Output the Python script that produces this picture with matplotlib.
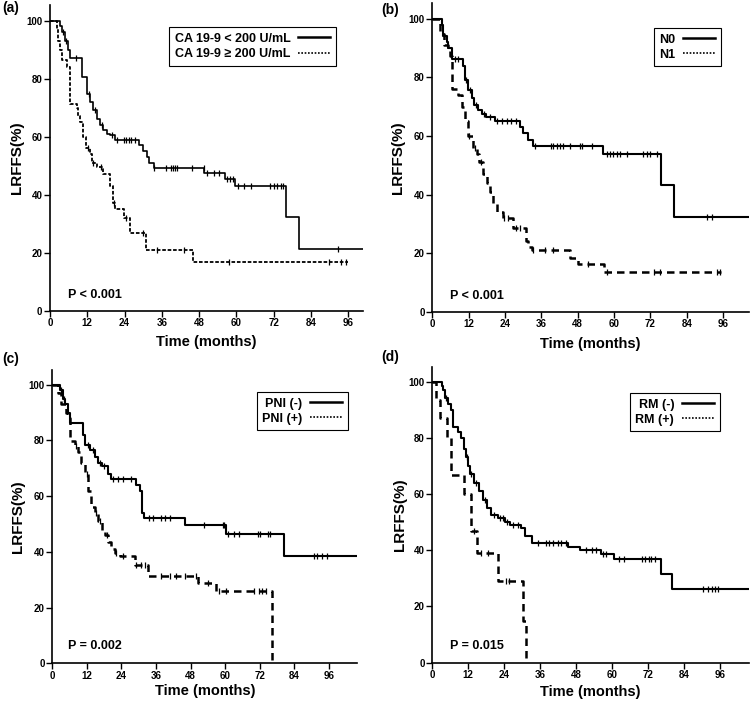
import numpy as np
import matplotlib
matplotlib.use('Agg')
import matplotlib.pyplot as plt
from matplotlib.lines import Line2D

plt.rcParams['font.family'] = ['Liberation Sans', 'DejaVu Sans']

# (a) CA 19-9
a_lo_t = [3.2, 3.8, 4.8, 5.9, 6.5, 10.2, 12.0, 12.9, 13.8, 15.1, 16.1, 17.2, 18.3, 19.4, 21.0,
          28.5, 30.0, 31.3, 31.8, 33.4, 49.7, 56.5, 59.7, 76.1, 80.2]
a_lo_s = [98, 96, 93, 90, 87.2, 80.5, 74.8, 72, 69, 66.2, 64, 62.2, 61, 60.4, 58.7,
          57, 55, 53, 51, 49.3, 47.5, 45.5, 43, 32.3, 21.4]
a_lo_c = [4.2, 5.2, 8.3, 12.6, 14.5, 16.6, 19.9, 21.5, 23.7, 24.5, 25.3, 26.1, 27.4, 33.6, 37.4,
          38.8, 39.6, 40.2, 40.9, 45.7, 49.5, 50.6, 52.7, 54.4, 57.0, 58.0, 59.0, 60.5, 62.4, 64.6,
          70.8, 72.1, 73.2, 74.3, 75.0, 92.6]
a_hi_t = [2.2, 2.7, 3.2, 3.8, 5.4, 6.5, 8.6, 9.1, 9.7, 10.5, 11.6, 12.9, 13.5, 15.1, 17.2, 19.4,
          20.2, 21.0, 23.9, 25.8, 30.8, 46.1]
a_hi_s = [97, 93, 90, 86.5, 84, 71.3, 70, 67, 65, 60, 56, 54, 51, 49.5, 47, 43,
          37, 35, 32, 26.8, 21, 16.7]
a_hi_c = [12.2, 14.0, 16.3, 20.6, 24.6, 30.1, 34.4, 43.0, 57.6, 89.9, 93.6, 95.3]

# (b) N stage
b_n0_t = [3.1, 3.6, 4.7, 5.3, 6.4, 10.2, 10.8, 11.9, 13.0, 13.8, 15.2, 16.3, 17.7, 20.7, 28.9,
          30.0, 31.7, 33.3, 56.4, 75.5, 79.9]
b_n0_s = [98, 94.2, 92, 90, 86.2, 84, 79.2, 75.7, 73, 70.5, 69, 67.5, 66.5, 65.3, 63,
          61, 58.5, 56.6, 53.9, 43.3, 32.2]
b_n0_c = [4.0, 7.5, 8.5, 11.2, 12.5, 14.5, 17.0, 19.0, 21.5, 23.0, 24.5, 26.0, 27.5, 33.8, 39.1,
          40.0, 41.0, 42.1, 43.2, 45.4, 48.7, 49.3, 52.6, 57.5, 58.6, 59.7, 60.8, 61.9, 64.1, 69.6,
          70.7, 71.9, 74.0, 90.5, 92.2]
b_n1_t = [2.5, 3.9, 5.3, 5.8, 6.4, 8.6, 9.7, 10.8, 11.9, 13.5, 14.6, 15.5, 16.8, 17.9, 19.0,
          20.1, 21.5, 23.4, 26.5, 30.9, 31.7, 32.8, 45.4, 48.2, 56.7]
b_n1_s = [95, 91, 89, 87.5, 76, 74, 70, 65, 60, 56, 54, 51, 47, 44, 41,
          37, 34, 32, 28.5, 24, 22, 21.1, 18.5, 16.2, 13.4]
b_n1_c = [12.2, 14.0, 16.0, 23.8, 25.1, 27.5, 29.0, 33.3, 37.2, 39.9, 51.5, 57.5, 73.0, 75.0,
          93.8, 95.0]

# (c) PNI
c_neg_t = [2.6, 3.6, 4.4, 5.5, 6.3, 10.5, 11.3, 13.0, 14.7, 15.9, 17.1, 19.4, 20.5, 29.1, 30.3,
           31.2, 31.7, 45.9, 60.3, 80.4]
c_neg_s = [98, 95, 93, 90, 86.3, 82, 78.5, 76.5, 74, 72, 71, 68, 66.2, 64, 62,
           54, 52.2, 49.6, 46.5, 38.7]
c_neg_c = [3.0, 4.0, 12.5, 14.0, 16.5, 18.0, 21.1, 22.8, 24.5, 27.4, 33.5, 34.9, 37.8, 39.2, 40.9,
           52.8, 59.1, 59.7, 60.8, 63.1, 64.9, 71.2, 72.0, 74.7, 75.5, 90.8, 91.9, 93.7, 95.4]
c_pos_t = [2.1, 3.2, 4.7, 5.5, 6.3, 7.8, 9.0, 10.1, 11.3, 12.4, 13.6, 14.7, 15.9, 17.1, 18.2,
           19.4, 20.5, 21.7, 23.4, 28.6, 33.2, 50.5, 56.8, 76.2]
c_pos_s = [97, 93, 90, 88, 79.7, 78, 76, 72, 68, 62, 56, 54, 51, 48, 46,
           43.5, 41, 39.5, 38.5, 35.2, 31.4, 29, 26, 0]
c_pos_c = [8.2, 12.0, 15.0, 16.5, 19.0, 22.0, 24.5, 29.1, 30.9, 32.0, 37.8, 40.7, 43.0, 45.9,
           49.9, 53.9, 58.0, 60.3, 70.0, 71.8, 72.9, 74.1]

# (d) RM
d_neg_t = [3.1, 3.7, 4.2, 5.3, 6.1, 6.8, 8.6, 9.7, 10.5, 11.2, 12.0, 12.7, 13.8, 15.6, 16.9,
           18.3, 19.7, 21.9, 24.1, 25.8, 29.7, 30.8, 33.3, 45.2, 49.1, 56.3, 60.7, 76.4, 80.1]
d_neg_s = [98.5, 97, 94.1, 92, 90, 83.8, 82, 80, 76, 73, 70, 67, 64, 61, 58,
           55, 52.6, 51.5, 50, 49, 48, 45, 42.5, 41, 40, 38.5, 36.8, 31.4, 26.2]
d_neg_c = [4.5, 11.5, 13.0, 14.5, 17.5, 20.5, 22.5, 23.5, 25.0, 27.0, 28.5, 35.1, 37.9, 39.0,
           40.1, 41.8, 42.9, 44.5, 51.2, 53.4, 54.5, 56.9, 57.8, 62.2, 63.9, 69.9, 71.0, 72.2,
           73.0, 74.4, 90.4, 92.0, 93.2, 94.3, 95.4]
d_pos_t = [1.4, 2.5, 4.8, 6.4, 10.6, 13.0, 15.0, 21.9, 30.2, 31.3]
d_pos_s = [93.4, 86.9, 79.9, 66.7, 60, 46.7, 39, 29.2, 14.7, 0]
d_pos_c = [14.0, 16.4, 18.6, 24.6, 25.7]

panels = [
    dict(tag='(a)', labels=['CA 19-9 < 200 U/mL', 'CA 19-9 \u2265 200 U/mL'], p='P < 0.001',
         curves=[(a_lo_t, a_lo_s, a_lo_c, 100.8), (a_hi_t, a_hi_s, a_hi_c, 95.8)], xmax=100.8),
    dict(tag='(b)', labels=['N0', 'N1'], p='P < 0.001',
         curves=[(b_n0_t, b_n0_s, b_n0_c, 104.5), (b_n1_t, b_n1_s, b_n1_c, 95.2)], xmax=104.5),
    dict(tag='(c)', labels=['PNI (-)', 'PNI (+)'], p='P = 0.002',
         curves=[(c_neg_t, c_neg_s, c_neg_c, 105.8), (c_pos_t, c_pos_s, c_pos_c, 76.2)], xmax=105.8),
    dict(tag='(d)', labels=['RM (-)', 'RM (+)'], p='P = 0.015',
         curves=[(d_neg_t, d_neg_s, d_neg_c, 105.6), (d_pos_t, d_pos_s, d_pos_c, 31.3)], xmax=105.6),
]

# axes rectangles in figure fractions (left, bottom, width, height)
rects = [(0.0666, 0.5587, 0.4168, 0.434),
         (0.5756, 0.5572, 0.4217, 0.438),
         (0.0696, 0.0578, 0.4061, 0.4166),
         (0.5756, 0.0587, 0.4217, 0.4204)]
tag_pos = [(0.003, 0.988), (0.508, 0.986), (0.003, 0.49), (0.508, 0.493)]
leg_anchor = [(0.914, 0.928), (0.912, 0.92), (0.97, 0.925), (0.908, 0.911)]
xlab_y = [-0.104, -0.104, -0.093, -0.099]
ylab_x = [-0.105, -0.108, -0.112, -0.102]
p_pos = [(5.8, 5.4), (5.8, 5.4), (5.5, 6.2), (5.8, 5.9)]

fig = plt.figure(figsize=(7.51, 7.04), dpi=100)

for i, pn in enumerate(panels):
    ax = fig.add_axes(rects[i])
    dashed = (0, (2, 1)) if i == 0 else (0, (3, 2))
    styles = [dict(ls='-', lw=1.2 if i == 0 else 1.5),
              dict(ls=dashed, lw=1.3 if i == 0 else 1.8)]
    for (t, s, cens, end), st in zip(pn['curves'], styles):
        xs = np.array([0] + list(t) + [end])
        ys = np.array([100] + list(s) + [s[-1]])
        ax.step(xs, ys, where='post', color='black', **st)
        c = np.array(cens)
        idx = np.searchsorted(xs, c, side='right') - 1
        ax.plot(c, ys[idx], ls='none', marker='|', ms=5, mew=0.9, color='black')

    ax.set_xlim(0, pn['xmax'])
    ax.set_ylim(0, 105.3)
    ax.set_xticks(np.arange(0, 97, 12))
    ax.set_yticks(np.arange(0, 101, 20))
    for sp in ['top', 'right']:
        ax.spines[sp].set_visible(False)
    for sp in ['left', 'bottom']:
        ax.spines[sp].set_linewidth(1.2)
    ax.tick_params(direction='out', length=4, width=1, labelsize=7, pad=1.5)
    for lab in ax.get_xticklabels() + ax.get_yticklabels():
        lab.set_fontweight('bold')

    ax.set_xlabel('Time (months)', fontsize=10.5, fontweight='bold', va='center')
    ax.xaxis.set_label_coords(0.5, xlab_y[i])
    ax.set_ylabel('LRFFS(%)', fontsize=11, fontweight='bold', va='center')
    ax.yaxis.set_label_coords(ylab_x[i], 0.5)

    ax.text(p_pos[i][0], p_pos[i][1], pn['p'], fontsize=9, fontweight='bold', va='center')

    handles = [Line2D([], [], color='black', lw=1.8, ls='-'),
               Line2D([], [], color='black', lw=1.2, ls=(0, (1, 1)))]
    leg = ax.legend(handles, pn['labels'], loc='upper right', bbox_to_anchor=leg_anchor[i],
                    markerfirst=False, fancybox=False, framealpha=1, edgecolor='black',
                    prop=dict(weight='bold', size=9), handlelength=2.6, handletextpad=0.6,
                    labelspacing=0.25, borderpad=0.45, borderaxespad=0)
    leg.get_frame().set_linewidth(0.8)

    fig.text(tag_pos[i][0], tag_pos[i][1], pn['tag'], fontsize=10, fontweight='bold', va='center')

fig.savefig('out.png', dpi=100)
